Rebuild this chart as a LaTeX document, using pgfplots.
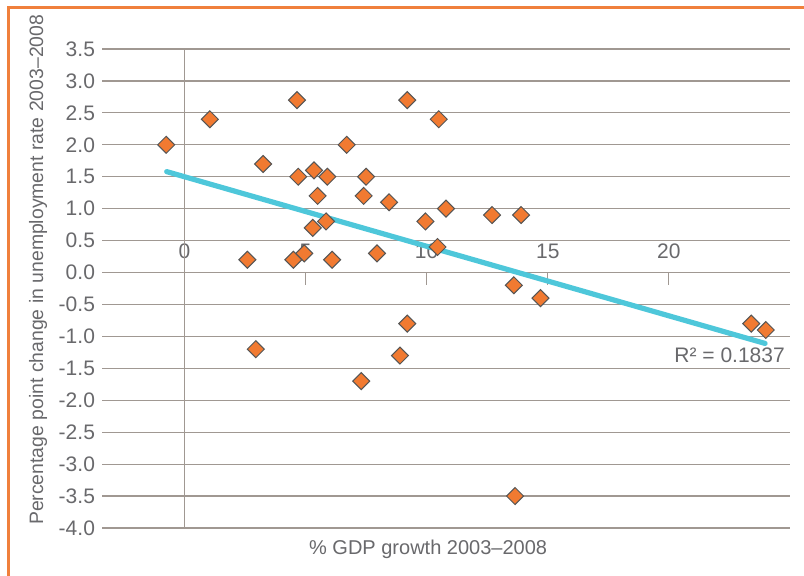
\documentclass[border=0pt]{standalone}
\usepackage{fontspec}
\setmainfont{Liberation Sans}
\usepackage{pgfplots}
\pgfplotsset{compat=1.18}

\definecolor{framecol}{RGB}{240,128,60}
\definecolor{gridcol}{RGB}{160,152,146}
\definecolor{txtcol}{RGB}{105,105,108}
\definecolor{markfill}{RGB}{241,122,49}
\definecolor{markedge}{RGB}{85,85,85}
\definecolor{trendcol}{RGB}{78,199,218}

\begin{document}
\begin{tikzpicture}
\path[use as bounding box] (0,0) rectangle (402pt,288pt);
\fill[white] (0,0) rectangle (402pt,288pt);
% outer frame
\draw[framecol, line width=1.5pt] (4pt,0) -- (4pt,284pt) -- (402pt,284pt);

\begin{axis}[
  at={(51pt,24pt)}, anchor=south west,
  scale only axis, width=344pt, height=239.5pt,
  xmin=-3.4, xmax=25, ymin=-4, ymax=3.5,
  axis x line*=middle, axis y line*=left,
  y axis line style={draw=none},
  x axis line style={draw=gridcol, line width=0.6pt, -},
  xtick={0,5,10,15,20},
  ytick={-4,-3.5,...,3.5},
  ymajorgrids, major grid style={gridcol, line width=0.6pt},
  xtick align=outside,
  x tick style={gridcol, line width=0.6pt},
  major tick length=6pt,
  y tick style={draw=none},
  tick label style={font=\fontsize{10.5}{12}\selectfont, text=txtcol},
  xticklabel style={anchor=base, yshift=13pt},
  yticklabel style={/pgf/number format/.cd, fixed, fixed zerofill, precision=1},
  /pgf/number format/assume math mode=true,
  clip=false,
]
% vertical axis line at zero
\draw[gridcol, line width=0.6pt] (axis cs:0,-4) -- (axis cs:0,3.5);

% linear trend
\addplot[trendcol, line width=2.6pt, line cap=round] coordinates {(-0.73,1.58) (23.97,-1.11)};

\addplot[only marks, mark=square*, mark size=3pt,
  mark options={rotate=45, fill=markfill, draw=markedge, line width=0.5pt}]
  coordinates {
  (-0.75,2.0) (1.05,2.4) (4.65,2.7) (6.7,2.0) (3.25,1.7)
  (4.7,1.5) (5.35,1.6) (5.9,1.5) (7.5,1.5) (5.5,1.2)
  (7.4,1.2) (5.85,0.8) (5.3,0.7) (2.6,0.2) (4.5,0.2)
  (4.95,0.3) (6.1,0.2) (7.95,0.3) (9.2,2.7) (10.5,2.4)
  (8.45,1.1) (9.95,0.8) (10.8,1.0) (12.7,0.9) (13.9,0.9)
  (10.45,0.4) (13.6,-0.2) (14.7,-0.4) (9.2,-0.8) (2.95,-1.2)
  (8.9,-1.3) (7.3,-1.7) (13.65,-3.5) (23.4,-0.8) (24.0,-0.9)
  };

\node[anchor=east, text=txtcol, font=\fontsize{10.5}{12}\selectfont, inner sep=0pt]
  at (axis cs:24.8,-1.29) {R² = 0.1837};
\node[text=txtcol, font=\fontsize{10}{12}\selectfont]
  at (axis description cs:0.474,-0.044) {\% GDP growth 2003–2008};
\node[text=txtcol, font=\fontsize{9.7}{12}\selectfont, rotate=90]
  at (axis description cs:-0.093,0.539) {Percentage point change in unemployment rate 2003–2008};
\end{axis}
\end{tikzpicture}
\end{document}
